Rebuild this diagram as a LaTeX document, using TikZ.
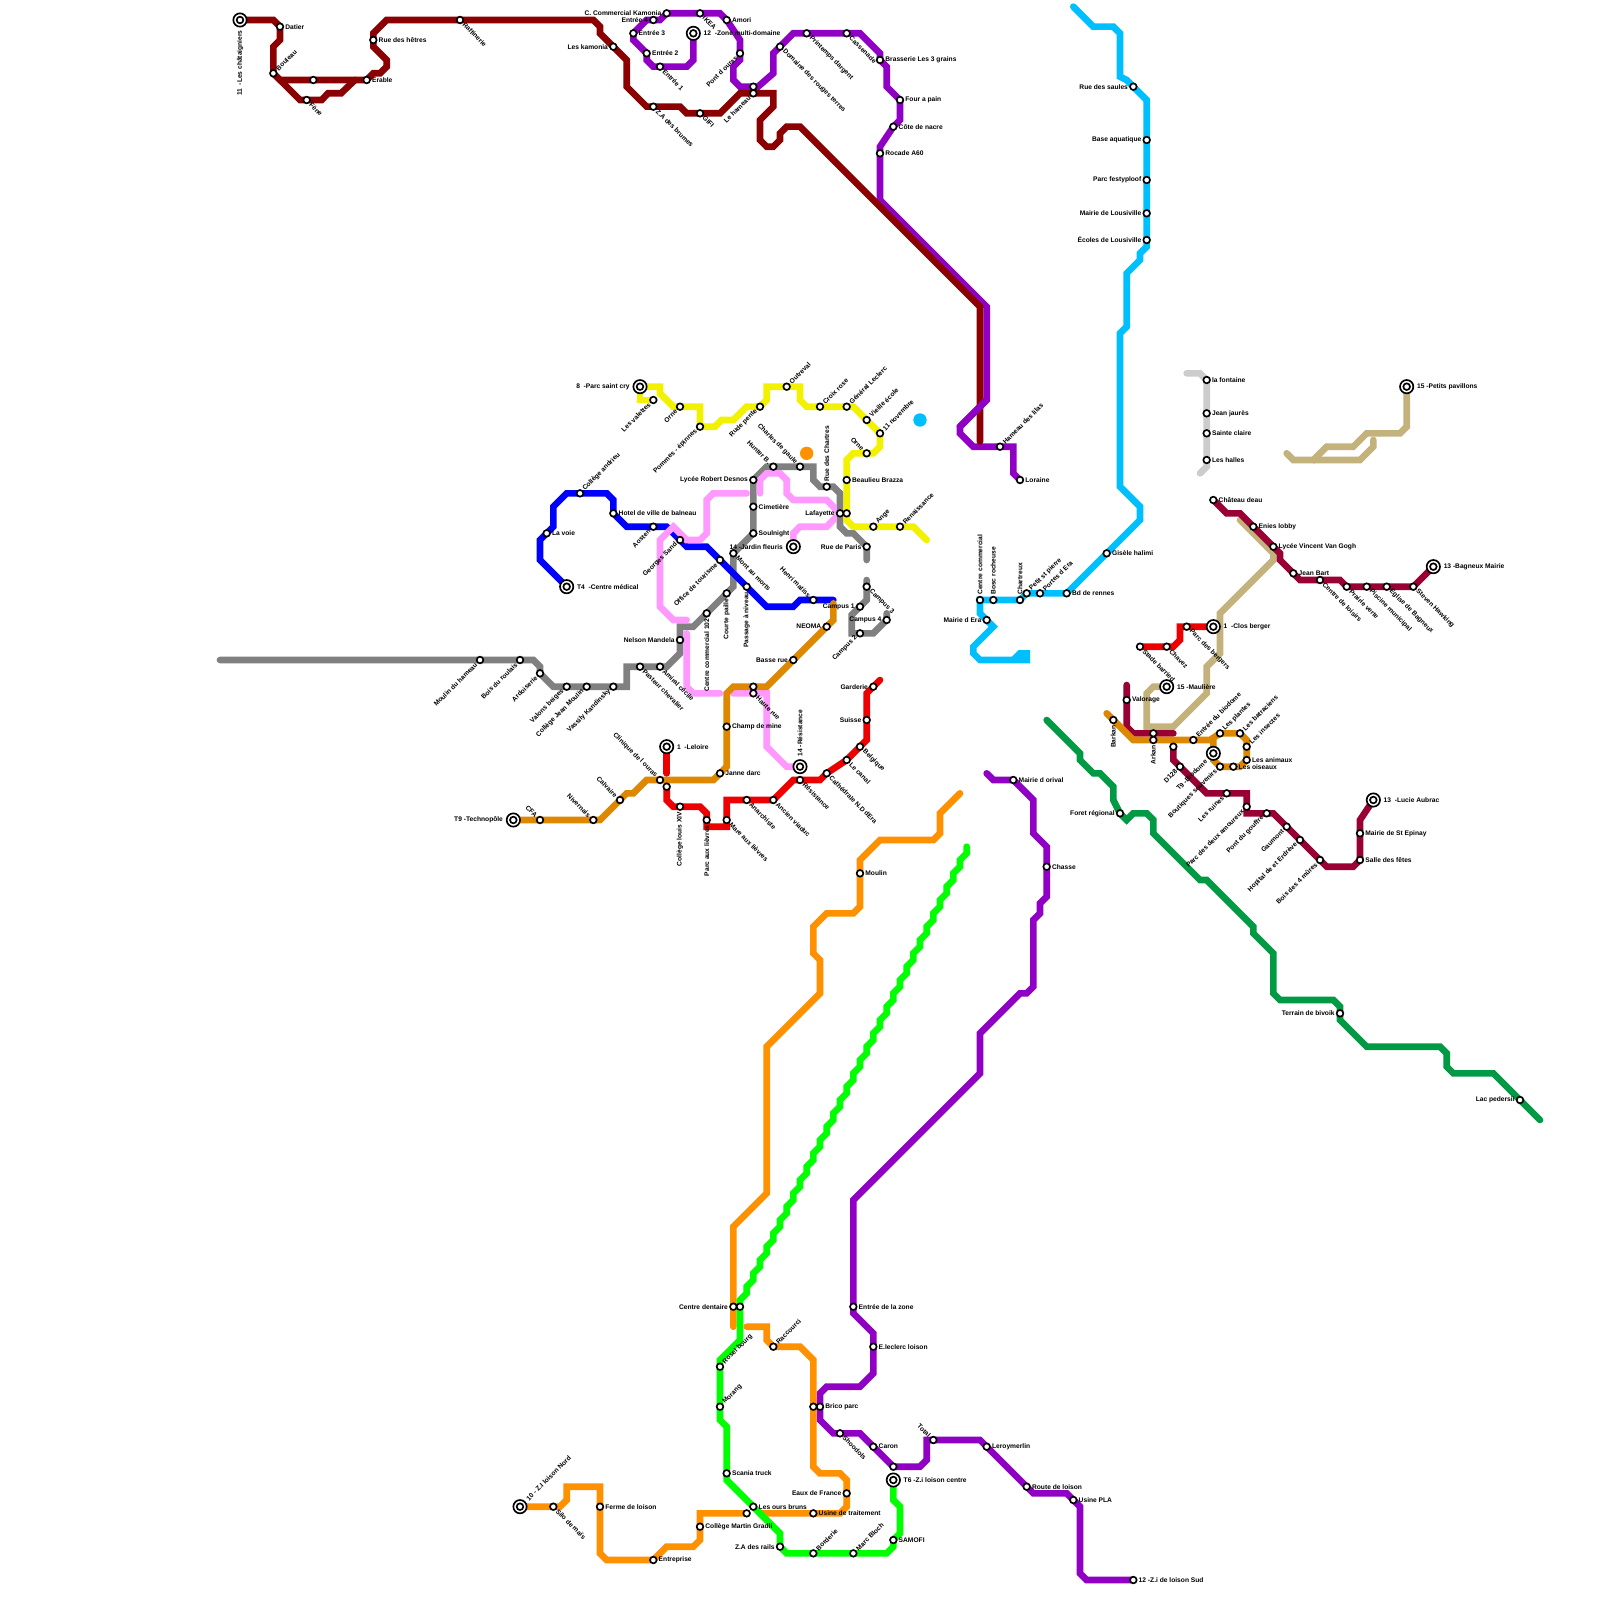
\documentclass[tikz,border=0pt]{standalone}
\usepackage{fontspec}
\setmainfont{Liberation Sans}
\usetikzlibrary{backgrounds}
\definecolor{cDred}{HTML}{8B0000}
\definecolor{cPur}{HTML}{9000C4}
\definecolor{cSky}{HTML}{00BFFF}
\definecolor{cYel}{HTML}{F2F200}
\definecolor{cGry}{HTML}{808080}
\definecolor{cBlu}{HTML}{0000FF}
\definecolor{cPnk}{HTML}{FF99FF}
\definecolor{cRed}{HTML}{EE0000}
\definecolor{cDor}{HTML}{DE8700}
\definecolor{cOrg}{HTML}{FF9000}
\definecolor{cLim}{HTML}{00FF00}
\definecolor{cGrn}{HTML}{009944}
\definecolor{cCrm}{HTML}{990033}
\definecolor{cTan}{HTML}{C4B27D}
\definecolor{cLgr}{HTML}{CCCCCC}
\tikzset{
  stnode/.style={circle,draw=black,fill=white,inner sep=0pt,minimum size=3.33pt,line width=0.83pt},
  tmnode/.style={circle,draw=black,fill=white,inner sep=0pt,minimum size=6.67pt,line width=0.83pt},
  dotnode/.style={circle,inner sep=0pt,minimum size=6.67pt},
  lab/.style={inner sep=0pt,font=\fontsize{3.33pt}{4pt}\selectfont\bfseries,text=black},
  metro/.style={line width=3.33pt,line join=miter,line cap=round},
  R/.style={xshift=#1,anchor=west},R/.default=2.5pt,
  L/.style={xshift=-#1,anchor=east},L/.default=2.5pt,
  UR/.style={rotate=45,xshift=#1,anchor=west},UR/.default=2.5pt,
  DR/.style={rotate=-45,xshift=#1,anchor=west},DR/.default=2.5pt,
  DL/.style={rotate=45,xshift=-#1,anchor=east},DL/.default=2.5pt,
  UL/.style={rotate=-45,xshift=-#1,anchor=east},UL/.default=2.5pt,
  U/.style={rotate=90,xshift=#1,anchor=west},U/.default=2.5pt,
  D/.style={rotate=90,xshift=-#1,anchor=east},D/.default=2.5pt,
}
\newcommand\stn[5]{\node[stnode](#1) at (#2,#3) {}; \node[lab,#4](#1t) at (#2,#3) {#5};}
\newcommand\stu[3]{\node[stnode](#1) at (#2,#3) {};}
\newcommand\trm[5]{\node[tmnode](#1o) at (#2,#3) {}; \node[stnode](#1) at (#2,#3) {}; \node[lab,#4=5pt](#1t) at (#2,#3) {#5};}
\begin{document}
\begin{tikzpicture}[x=0.5pt,y=-0.5pt]
\useasboundingbox (0,0) rectangle (1600,1600);
% ---- line 11
\trm{tA}{240}{20}{D}{11\ \ -Les châtaigniers}
\stn{aDat}{280}{26.67}{R}{Datier}
\stn{aBou}{273.33}{73.33}{UR}{Bouleau}
\stu{aUn}{313.33}{80}
\stn{aFen}{306.67}{100}{DR}{Fène}
\stn{aEra}{366.67}{80}{R}{Erable}
\stn{aHet}{373.33}{40}{R}{Rue des hêtres}
\stn{aRaf}{460}{20}{DR}{Raffinerie}
\stn{aKam}{613.33}{46.67}{L}{Les kamonia}
\stn{aZab}{653.33}{106.67}{DR}{Z.A des brumes}
\stn{aGif}{700}{113.33}{DR}{GIFI}
\stn{aHam}{753.33}{93.33}{DL}{Le hameau}
% ---- purple north
\trm{tB}{693.33}{33.33}{R}{12\ \ -Zone multi-domaine}
\stn{bE1}{660}{66.67}{DR}{Entrée 1}
\stn{bE2}{646.67}{53.33}{R}{Entrée 2}
\stn{bE3}{633.33}{33.33}{R}{Entrée 3}
\stn{bE4}{653.33}{20}{L}{Entrée 4}
\stn{bCom}{666.67}{13.33}{L}{C. Commercial Kamonia}
\stn{bIke}{700}{13.33}{DR}{IKEA}
\stn{bAmo}{726.67}{20}{R}{Amori}
\stn{bPon}{740}{53.33}{DL}{Pont d ouras}
\stu{bUn}{753.33}{86.67}
\stn{bDom}{780}{46.67}{DR}{Domaine des rouges terres}
\stn{bPri}{806.67}{33.33}{DR}{Printemps dargent}
\stn{bCas}{846.67}{33.33}{DR}{Cassenade}
\stn{bBra}{880}{60}{R}{Brasserie Les 3 grains}
\stn{bFou}{900}{100}{R}{Four a pain}
\stn{bCot}{893.33}{126.67}{R}{Côte de nacre}
\stn{bRoc}{880}{153.33}{R}{Rocade A60}
\stn{bHam}{1000}{446.67}{UR}{Hameau des lilas}
\stn{bLor}{1020}{480}{R}{Loraine}
% ---- purple south
\stn{cOri}{1013.33}{780}{R}{Mairie d orival}
\stn{cCha}{1046.67}{866.67}{R}{Chasse}
\stn{cEnt}{853.33}{1306.67}{R}{Entrée de la zone}
\stn{cLec}{873.33}{1346.67}{R}{E.leclerc loison}
\stn{cBri}{820}{1406.67}{R}{Brico parc}
\stn{cSho}{840}{1433.33}{DR}{Shoodols}
\stn{cCar}{873.33}{1446.67}{R}{Caron}
\stu{cUn}{893.33}{1466.67}
\stn{cTot}{933.33}{1440}{UL}{Total}
\stn{cLer}{986.67}{1446.67}{R}{Leroymerlin}
\stn{cRou}{1026.67}{1486.67}{R}{Route de loison}
\stn{cPla}{1073.33}{1500}{R}{Usine PLA}
\stn{cSud}{1133.33}{1580}{R}{12 -Z.i de loison Sud}
% ---- sky
\stn{dSau}{1133.33}{86.67}{L}{Rue des saules}
\stn{dBas}{1146.67}{140}{L}{Base aquatique}
\stn{dFes}{1146.67}{180}{L}{Parc festyploof}
\stn{dMai}{1146.67}{213.33}{L}{Mairie de Lousiville}
\stn{dEco}{1146.67}{240}{L}{Écoles de Lousiville}
\stn{dGis}{1106.67}{553.33}{R}{Gisèle halimi}
\stn{dBd}{1066.67}{593.33}{R}{Bd de rennes}
\stn{dPor}{1040}{593.33}{UR}{Portes d Era}
\stn{dPet}{1026.67}{593.33}{UR}{Petit st pierre}
\stn{dCha}{1020}{600}{U}{Chartreux}
\stn{dBos}{993.33}{600}{U}{Bosc rocheuse}
\stn{dCen}{980}{600}{U}{Centre commercial}
\stn{dEra}{986.67}{620}{L}{Mairie d Era}
% ---- yellow
\trm{tE}{640}{386.67}{L}{8\ \ -Parc saint cry}
\stn{eVal}{653.33}{400}{DL}{Les valettes}
\stn{eOrn}{680}{406.67}{DL}{Orne}
\stn{ePom}{700}{426.67}{DL}{Pommes - épinnes}
\stn{eRud}{760}{406.67}{DL}{Rude pente}
\stn{eOut}{786.67}{386.67}{UR}{Outreval}
\stn{eCro}{820}{406.67}{UR}{Croix rose}
\stn{eGen}{846.67}{406.67}{UR}{Général Leclerc}
\stn{eVie}{866.67}{420}{UR}{Vieille école}
\stn{eNov}{880}{433.33}{UR}{11 novembre}
\stn{eOr2}{866.67}{453.33}{UL}{Orne}
\stn{eBea}{846.67}{480}{R}{Beaulieu Brazza}
\stu{eLaf}{846.67}{513.33}
\stn{eAng}{873.33}{526.67}{UR}{Ange}
\stn{eRen}{900}{526.67}{UR}{Renaissance}
% ---- gray
\stn{fMou}{480}{660}{DL}{Moulin du hameau}
\stn{fBoi}{520}{660}{DL}{Bois du roulais}
\stn{fArd}{540}{673.33}{DL}{Ardoiserie}
\stn{fVal}{566.67}{686.67}{DL}{Valons beiges}
\stn{fCol}{586.67}{686.67}{DL}{Collège Jean Moulin}
\stn{fVas}{613.33}{686.67}{DL}{Vassily Kandinsky}
\stn{fPas}{640}{666.67}{DR}{Pasteur chevalier}
\stn{fAmi}{660}{666.67}{DR}{Amiral cécile}
\stn{fNel}{680}{640}{L}{Nelson Mandela}
\stn{fC102}{706.67}{613.33}{D}{Centre commercial 102}
\stn{fCou}{726.67}{593.33}{D}{Courte paille}
\stn{fMon}{733.33}{553.33}{DR}{Mont au morts}
\stn{fSou}{753.33}{533.33}{R}{Soulnight}
\stn{fCim}{753.33}{506.67}{R}{Cimetière}
\stn{fLyc}{753.33}{480}{L}{Lycée Robert Desnos}
\stn{fHun}{773.33}{466.67}{UL}{Hunter B.}
\stn{fChg}{800}{466.67}{UL}{Charles de gaule}
\stn{fRue}{826.67}{486.67}{U}{Rue des Chartres}
\stn{fLaf}{840}{513.33}{L}{Lafayette}
\stn{fPar}{866.67}{546.67}{L}{Rue de Paris}
\stn{fCa3}{866.67}{586.67}{DR}{Campus 3}
\stn{fCa1}{860}{606.67}{L}{Campus 1}
\stn{fCa4}{886.67}{620}{L}{Campus 4}
\stn{fCa2}{860}{633.33}{DL}{Campus 2}
% ---- blue
\trm{tG}{566.67}{586.67}{R}{T4\ \ -Centre médical}
\stn{gVoi}{546.67}{533.33}{R}{La voie}
\stn{gAnd}{580}{493.33}{UR}{Collège andrieu}
\stn{gHot}{613.33}{513.33}{R}{Hotel de ville de balneau}
\stn{gAos}{653.33}{526.67}{DL}{Aosten}
\stn{gSan}{680}{540}{DL}{Georges Sand}
\stn{gOff}{720}{560}{DL}{Office de tourisme}
\stn{gPas}{746.67}{586.67}{D}{Passage à niveau}
\stn{gHen}{813.33}{600}{UL}{Henri matiss}
% ---- pink termini
\trm{tH}{793.33}{546.67}{L}{14 -Jardin fleuris}
\trm{tI}{800}{766.67}{U}{14 -Résistance}
\stn{hHau}{753.33}{693.33}{DR}{Haute rue}
% ---- dark orange
\trm{tJ}{513.33}{820}{L}{T9 -Technopôle}
\stn{jCfa}{540}{820}{UL}{CFA}
\stn{jNiv}{593.33}{820}{UL}{Nivernais}
\stn{jCal}{620}{800}{UL}{Calvaire}
\stn{jCli}{660}{780}{UL}{Clinique de l ouras}
\stn{jJan}{720}{773.33}{R}{Janne darc}
\stn{jCha}{726.67}{726.67}{R}{Champ de mine}
\stu{jHau}{753.33}{686.67}
\stn{jBas}{793.33}{660}{L}{Basse rue}
\stn{jNeo}{826.67}{626.67}{L}{NEOMA}
% ---- red
\trm{tK}{666.67}{746.67}{R}{1\ \ -Leloire}
\stu{kUn}{666.67}{786.67}
\stn{kLou}{680}{806.67}{D}{Collège louis XIV}
\stn{kLie}{706.67}{820}{D}{Parc aux lièvres}
\stn{kMar}{726.67}{820}{DR}{Mare aux lièvres}
\stn{kAna}{746.67}{800}{DR}{Anarchiste}
\stn{kAnc}{773.33}{800}{DR}{Ancien viaduc}
\stn{kRes}{800}{780}{DR}{Résistance}
\stn{kCat}{826.67}{773.33}{DR}{Cathédrale N.D dEra}
\stn{kCan}{846.67}{760}{DR}{Le canal}
\stn{kBel}{860}{746.67}{DR}{Belgique}
\stn{kSui}{866.67}{720}{L}{Suisse}
\stn{kGar}{873.33}{686.67}{L}{Garderie}
% ---- red east
\trm{tL}{1213.33}{626.67}{R}{1\ \ -Clos berger}
\stn{lPar}{1186.67}{626.67}{DR}{Parc des bergers}
\stn{lCha}{1166.67}{646.67}{DR}{Chavez}
\stn{lSta}{1140}{646.67}{DR}{Stade barried}
% ---- light gray
\stn{mFon}{1206.67}{380}{R}{la fontaine}
\stn{mJea}{1206.67}{413.33}{R}{Jean jaurès}
\stn{mSte}{1206.67}{433.33}{R}{Sainte claire}
\stn{mHal}{1206.67}{460}{R}{Les halles}
% ---- crimson upper
\stn{nCha}{1213.33}{500}{R}{Château deau}
\stn{nEni}{1253.33}{526.67}{R}{Enies lobby}
\stn{nLyc}{1273.33}{546.67}{R}{Lycée Vincent Van Gogh}
\stn{nJea}{1293.33}{573.33}{R}{Jean Bart}
\stn{nCen}{1320}{580}{DR}{Centre de loisirs}
\stn{nPra}{1346.67}{586.67}{DR}{Prairie verte}
\stn{nPis}{1366.67}{586.67}{DR}{Piscine municipal}
\stn{nEgl}{1386.67}{586.67}{DR}{Eglise de Bagneux}
\stn{nSte}{1413.33}{586.67}{DR}{Steven Hawking}
\trm{tN}{1433.33}{566.67}{R}{13 -Bagneux Mairie}
% ---- tan
\trm{tO}{1166.67}{686.67}{R}{15 -Maulière}
\trm{tP}{1406.67}{386.67}{R}{15 -Petits pavillons}
% ---- crimson lower
\stn{qVal}{1126.67}{700}{R}{Valorage}
\stu{qArk}{1153.33}{733.33}
\stu{qUn}{1173.33}{746.67}
\stn{qD}{1180}{766.67}{DL}{D128}
\stn{qRui}{1226.67}{793.33}{DL}{Les ruines}
\stn{qAmo}{1246.67}{806.67}{DL}{Parc des deux amoureux}
\stn{qGou}{1266.67}{813.33}{DL}{Pont du gouffre}
\stn{qGau}{1286.67}{826.67}{DL}{Gaumont}
\stn{qHop}{1300}{840}{DL}{Hopital de et Erdrève}
\stn{qBoi}{1320}{860}{DL}{Bois des 4 mûres}
\stn{qSal}{1360}{860}{R}{Salle des fêtes}
\stn{qMai}{1360}{833.33}{R}{Mairie de St Epinay}
\trm{tQ}{1373.33}{800}{R}{13\ \ -Lucie Aubrac}
% ---- biodome
\stn{rBar}{1113.33}{720}{D}{Barkan}
\stn{rArk}{1153.33}{740}{D}{Arkan}
\stn{rEnt}{1193.33}{740}{UR}{Entrée du biodome}
\stn{rPla}{1220}{733.33}{UR}{Les plantes}
\stn{rBat}{1240}{733.33}{UR}{Les batraciens}
\stn{rIns}{1246.67}{746.67}{UR}{Les insectes}
\stn{rAni}{1246.67}{760}{R}{Les animaux}
\stn{rOis}{1233.33}{766.67}{R}{Les oiseaux}
\stn{rBou}{1220}{766.67}{DL}{Boutiques souvenirs}
\trm{tR}{1213.33}{753.33}{DL}{T9 -Biodome}
% ---- dark green
\stn{sFor}{1120}{813.33}{L}{Foret régional}
\stn{sTer}{1340}{1013.33}{L}{Terrain de bivoik}
\stn{sLac}{1520}{1100}{L}{Lac pedersii}
% ---- orange
\stn{uMou}{860}{873.33}{R}{Moulin}
\stn{uDen}{733.33}{1306.67}{L}{Centre dentaire}
\stn{uRac}{773.33}{1346.67}{UR}{Raccourci}
\stu{uBri}{813.33}{1406.67}
\stn{uEau}{846.67}{1493.33}{L}{Eaux de France}
\stn{uUsi}{813.33}{1513.33}{R}{Usine de traitement}
\stu{uUn}{746.67}{1513.33}
\stn{uGra}{700}{1526.67}{R}{Collège Martin Gradli}
\stn{uEnt}{653.33}{1560}{R}{Entreprise}
\stn{uFer}{600}{1506.67}{R}{Ferme de loison}
\stn{uSil}{553.33}{1506.67}{DR}{Silo de maïs}
\trm{tU}{520}{1506.67}{UR}{10 - Z.I loison Nord}
% ---- lime
\stu{vDen}{740}{1306.67}
\stn{vRos}{720}{1366.67}{UR}{Rosel bourg}
\stn{vMor}{720}{1406.67}{UR}{Morang}
\stn{vSca}{726.67}{1473.33}{R}{Scania truck}
\stn{vOur}{753.33}{1506.67}{R}{Les ours bruns}
\stn{vZa}{780}{1546.67}{L}{Z.A des rails}
\stn{vBor}{813.33}{1553.33}{UR}{Borderie}
\stn{vMar}{853.33}{1553.33}{UR}{Marc Bloch}
\stn{vSam}{893.33}{1540}{R}{SAMOFI}
\trm{tV}{893.33}{1480}{R}{T6 -Z.i loison centre}
% ---- dots
\node[dotnode,fill=cSky] (dotSky) at (920,420) {};
\node[dotnode,fill=cOrg] (dotOrg) at (806.67,453.33) {};
% ================= lines
\begin{scope}[on background layer]
\fill[white] (0,0) rectangle (1600,1600);
% tan
\draw[metro,cTan] (1240,520) -- (1273.33,553.33) -- (1273.33,560) -- (1220,613.33) -- (1220,653.33) -- (1206.67,666.67) -- (1206.67,693.33) -- (1173.33,726.67) -- (1146.67,726.67) -- (1146.67,693.33) -- (1153.33,686.67) -- (tO.center);
\draw[metro,cTan] (tP.center) -- (1406.67,426.67) -- (1400,433.33) -- (1366.67,433.33) -- (1353.33,446.67) -- (1326.67,446.67) -- (1313.33,460) -- (1293.33,460) -- (1286.67,453.33);
\draw[metro,cTan] (1373.33,440) -- (1373.33,446.67) -- (1360,460) -- (1313.33,460);
% light gray
\draw[metro,cLgr] (1186.67,373.33) -- (1200,373.33) -- (mFon.center) -- (mJea.center) -- (mSte.center) -- (mHal.center) -- (1206.67,466.67) -- (1200,473.33);
% gray
\draw[metro,cGry] (220,660) -- (fMou.center) -- (fBoi.center) -- (533.33,660) -- (540,666.67) -- (fArd.center) -- (553.33,686.67) -- (fVal.center) -- (fCol.center) -- (fVas.center) -- (626.67,686.67) -- (626.67,666.67) -- (fPas.center) -- (fAmi.center) -- (666.67,666.67) -- (680,653.33) -- (fNel.center) -- (680,626.67) -- (693.33,626.67) -- (fC102.center) -- (fCou.center) -- (733.33,586.67) -- (fMon.center) -- (fSou.center) -- (fCim.center) -- (fLyc.center) -- (766.67,466.67) -- (fHun.center) -- (fChg.center) -- (813.33,466.67) -- (813.33,480) -- (820,486.67) -- (fRue.center) -- (833.33,486.67) -- (840,493.33) -- (fLaf.center) -- (840,526.67) -- (846.67,533.33) -- (853.33,533.33) -- (fPar.center) -- (866.67,560);
\draw[metro,cGry] (866.67,580) -- (fCa3.center) -- (866.67,600) -- (fCa1.center) -- (851.67,615) -- (851.67,633.33) -- (fCa2.center) -- (873.33,633.33) -- (fCa4.center) -- (886.67,613.33);
% blue
\draw[metro,cBlu] (tG.center) -- (540,560) -- (540,540) -- (gVoi.center) -- (553.33,526.67) -- (553.33,506.67) -- (566.67,493.33) -- (gAnd.center) -- (606.67,493.33) -- (613.33,500) -- (gHot.center) -- (626.67,526.67) -- (gAos.center) -- (666.67,526.67) -- (gSan.center) -- (686.67,546.67) -- (706.67,546.67) -- (gOff.center) -- (gPas.center) -- (766.67,606.67) -- (793.33,606.67) -- (800,600) -- (gHen.center) -- (833.33,600);
% pink
\draw[metro,cPnk] (746.67,493.33) -- (713.33,493.33) -- (706.67,500) -- (706.67,533.33) -- (700,540) -- (686.67,540) -- (673.33,526.67) -- (660,540) -- (660,606.67) -- (673.33,620) -- (686.67,620);
\draw[metro,cPnk] (686.67,633.33) -- (686.67,686.67) -- (693.33,693.33) -- (720,693.33);
\draw[metro,cPnk] (733.33,693.33) -- (hHau.center) -- (766.67,693.33) -- (766.67,746.67) -- (786.67,766.67) -- (tI.center);
\draw[metro,cPnk] (tH.center) -- (793.33,533.33) -- (800,526.67) -- (826.67,526.67) -- (840,513.33) -- (826.67,500) -- (793.33,500) -- (786.67,493.33) -- (786.67,480) -- (780,473.33) -- (766.67,473.33) -- (760,480) -- (760,493.33);
\draw[metro,cGry] (840,493.33) -- (fLaf.center) -- (840,526.67);
% yellow
\draw[metro,cYel] (tE.center) -- (660,386.67) -- (660,393.33) -- (673.33,406.67) -- (eOrn.center) -- (700,406.67) -- (ePom.center) -- (715,426.67) -- (721.67,420) -- (733.33,420) -- (746.67,406.67) -- (eRud.center) -- (766.67,400) -- (766.67,386.67) -- (eOut.center) -- (800,386.67) -- (800,400) -- (806.67,406.67) -- (eCro.center) -- (eGen.center) -- (853.33,406.67) -- (eVie.center) -- (eNov.center) -- (880,446.67) -- (873.33,453.33) -- (eOr2.center) -- (853.33,453.33) -- (846.67,460) -- (eBea.center) -- (eLaf.center) -- (846.67,520) -- (853.33,526.67) -- (eAng.center) -- (eRen.center) -- (913.33,526.67) -- (926.67,540);
\draw[metro,cYel] (tE.center) -- (640,400) -- (eVal.center);
% purple north
\draw[metro,cPur] (tB.center) -- (693.33,60) -- (686.67,66.67) -- (bE1.center) -- (653.33,66.67) -- (646.67,60) -- (bE2.center) -- (633.33,40) -- (bE3.center) -- (646.67,20) -- (bE4.center) -- (660,20) -- (bCom.center) -- (bIke.center) -- (720,13.33) -- (bAmo.center) -- (740,40) -- (bPon.center) -- (740,60) -- (733.33,66.67) -- (733.33,80) -- (740,86.67) -- (bUn.center) -- (758,86.67) -- (773.33,73.33) -- (773.33,53.33) -- (bDom.center) -- (793.33,33.33) -- (bPri.center) -- (bCas.center) -- (860,33.33) -- (880,53.33) -- (bBra.center) -- (886.67,66.67) -- (886.67,86.67) -- (bFou.center) -- (900,120) -- (bCot.center) -- (880,146.67) -- (bRoc.center) -- (880,200) -- (986.67,306.67) -- (986.67,400) -- (960,426.67) -- (960,433.33) -- (973.33,446.67) -- (bHam.center) -- (1013.33,446.67) -- (1013.33,473.33) -- (bLor.center);
% dark red
\draw[metro,cDred] (tA.center) -- (273.33,20) -- (aDat.center) -- (280,40) -- (273.33,46.67) -- (aBou.center) -- (300,100) -- (aFen.center) -- (321.67,100) -- (328,93.33) -- (341,93.33) -- (355,80);
\draw[metro,cDred] (aBou.center) -- (280,80) -- (aUn.center) -- (aEra.center) -- (373.33,73.33) -- (380,73.33) -- (386.67,66.67) -- (386.67,60) -- (373.33,46.67) -- (aHet.center) -- (373.33,33.33) -- (386.67,20) -- (aRaf.center) -- (593.33,20) -- (600,26.67) -- (600,33.33) -- (aKam.center) -- (626.67,60) -- (626.67,86.67) -- (646.67,106.67) -- (aZab.center) -- (680,106.67) -- (686.67,113.33) -- (aGif.center) -- (720,113.33) -- (740,93.33) -- (aHam.center) -- (773.33,93.33) -- (773.33,106.67) -- (760,120) -- (760,140) -- (766.67,146.67) -- (773.33,146.67) -- (780,140) -- (780,133.33) -- (786.67,126.67) -- (800,126.67) -- (980,306.67) -- (980,441.67);
\draw[metro,cPur] (986.67,400) -- (960,426.67);
% purple south
\draw[metro,cPur] (986.67,773.33) -- (993.33,780) -- (cOri.center) -- (1033.33,800) -- (1033.33,833.33) -- (1046.67,846.67) -- (cCha.center) -- (1046.67,896.67) -- (1040,903.33) -- (1040,913.33) -- (1033.33,920) -- (1033.33,986.67) -- (1026.67,993.33) -- (1020,993.33) -- (980,1033.33) -- (980,1073.33) -- (853.33,1200) -- (cEnt.center) -- (853.33,1313.33) -- (873.33,1333.33) -- (cLec.center) -- (873.33,1373.33) -- (860,1386.67) -- (826.67,1386.67) -- (820,1393.33) -- (cBri.center) -- (820,1420) -- (833.33,1433.33) -- (cSho.center) -- (860,1433.33) -- (cCar.center) -- (cUn.center) -- (920,1466.67) -- (926.67,1460) -- (926.67,1440) -- (cTot.center) -- (980,1440) -- (cLer.center) -- (cRou.center) -- (1033.33,1493.33) -- (1066.67,1493.33) -- (cPla.center) -- (1080,1506.67) -- (1080,1573.33) -- (1086.67,1580) -- (cSud.center);
% sky
\draw[metro,cSky] (1073.33,6.67) -- (1093.33,26.67) -- (1113.33,26.67) -- (1120,33.33) -- (1120,76.67) -- (1126.67,80) -- (dSau.center) -- (1146.67,100) -- (dBas.center) -- (dFes.center) -- (dMai.center) -- (dEco.center) -- (1146.67,246.67) -- (1140,253.33) -- (1140,260) -- (1126.67,273.33) -- (1126.67,326.67) -- (1120,333.33) -- (1120,486.67) -- (1140,506.67) -- (1140,520) -- (dGis.center) -- (dBd.center) -- (dPor.center) -- (dPet.center) -- (dCha.center) -- (dBos.center) -- (dCen.center) -- (980,613.33) -- (dEra.center) -- (993.33,626.67) -- (973.33,646.67) -- (973.33,653.33) -- (980,660) -- (1026.67,660) -- (1026.67,653.33) -- (1020,653.33) -- (1013.33,660);
% dark orange
\draw[metro,cDor] (tJ.center) -- (jCfa.center) -- (jNiv.center) -- (600,820) -- (jCal.center) -- (626.67,793.33) -- (633.33,793.33) -- (646.67,780) -- (jCli.center) -- (713.33,780) -- (jJan.center) -- (726.67,766.67) -- (jCha.center) -- (726.67,693.33) -- (733.33,686.67) -- (jHau.center) -- (766.67,686.67) -- (jBas.center) -- (jNeo.center) -- (833.33,620) -- (833.33,603.33);
% red
\draw[metro,cRed] (tK.center) -- (666.67,773.33);
\draw[metro,cRed] (kUn.center) -- (666.67,800) -- (673.33,806.67) -- (kLou.center) -- (700,806.67) -- (706.67,813.33) -- (kLie.center) -- (706.67,826.67) -- (726.67,826.67) -- (kMar.center) -- (726.67,800) -- (kAna.center) -- (kAnc.center) -- (793.33,780) -- (kRes.center) -- (820,780) -- (kCat.center) -- (kCan.center) -- (kBel.center) -- (866.67,740) -- (kSui.center) -- (866.67,693.33) -- (kGar.center) -- (880,680);
\draw[metro,cRed] (tL.center) -- (lPar.center) -- (1180,626.67) -- (1180,640) -- (1173.33,646.67) -- (lCha.center) -- (lSta.center);
% crimson
\draw[metro,cCrm] (nCha.center) -- (1226.67,513.33) -- (1240,513.33) -- (nEni.center) -- (nLyc.center) -- (1280,553.33) -- (1280,560) -- (nJea.center) -- (1300,580) -- (nCen.center) -- (1340,580) -- (nPra.center) -- (nPis.center) -- (nEgl.center) -- (nSte.center) -- (tN.center);
\draw[metro,cCrm] (1126.67,685) -- (qVal.center) -- (1126.67,726.67) -- (1133.33,733.33) -- (qArk.center) -- (1173.33,733.33);
\draw[metro,cCrm] (qUn.center) -- (1173.33,760) -- (qD.center) -- (1206.67,793.33) -- (qRui.center) -- (1246.67,793.33) -- (qAmo.center) -- (1246.67,813.33) -- (qGou.center) -- (1273.33,813.33) -- (qGau.center) -- (qHop.center) -- (qBoi.center) -- (1326.67,866.67) -- (1353.33,866.67) -- (qSal.center) -- (qMai.center) -- (1360,820) -- (tQ.center);
% biodome
\draw[metro,cDor] (1106.67,713.33) -- (rBar.center) -- (1133.33,740) -- (rArk.center) -- (rEnt.center) -- (1210,740) -- (rPla.center) -- (rBat.center) -- (1246.67,740) -- (rIns.center) -- (rAni.center) -- (1240,766.67) -- (rOis.center) -- (rBou.center) -- (1213.33,760) -- (tR.center) -- (1213.33,740);
% dark green
\draw[metro,cGrn] (1046.67,720) -- (1080,753.33) -- (1080,760) -- (1093.33,773.33) -- (1100,773.33) -- (1113.33,786.67) -- (1113.33,800) -- (sFor.center) -- (1126.67,820) -- (1133.33,813.33) -- (1146.67,813.33) -- (1153.33,820) -- (1153.33,833.33) -- (1200,880) -- (1206.67,880) -- (1253.33,926.67) -- (1253.33,933.33) -- (1273.33,953.33) -- (1273.33,993.33) -- (1280,1000) -- (1333.33,1000) -- (1340,1006.67) -- (sTer.center) -- (1340,1020) -- (1366.67,1046.67) -- (1440,1046.67) -- (1446.67,1053.33) -- (1446.67,1066.67) -- (1453.33,1073.33) -- (1493.33,1073.33) -- (sLac.center) -- (1540,1120);
% orange
\draw[metro,cOrg] (960,793.33) -- (940,813.33) -- (940,833.33) -- (933.33,840) -- (880,840) -- (860,860) -- (uMou.center) -- (860,906.67) -- (853.33,913.33) -- (826.67,913.33) -- (813.33,926.67) -- (813.33,953.33) -- (820,960) -- (820,993.33) -- (766.67,1046.67) -- (766.67,1193.33) -- (733.33,1226.67) -- (uDen.center) -- (733.33,1326.67);
\draw[metro,cOrg] (746.67,1326.67) -- (766.67,1326.67) -- (766.67,1340) -- (uRac.center) -- (800,1346.67) -- (813.33,1360) -- (uBri.center) -- (813.33,1466.67) -- (820,1473.33) -- (840,1473.33) -- (846.67,1480) -- (uEau.center) -- (846.67,1506.67) -- (840,1513.33) -- (uUsi.center) -- (760,1513.33);
\draw[metro,cOrg] (uUn.center) -- (700,1513.33) -- (uGra.center) -- (700,1540) -- (693.33,1546.67) -- (666.67,1546.67) -- (uEnt.center) -- (606.67,1560) -- (600,1553.33) -- (uFer.center) -- (600,1486.67) -- (566.67,1486.67) -- (566.67,1500) -- (560,1506.67) -- (uSil.center) -- (tU.center);
% lime
\draw[metro,cLim] (740,1300) \foreach \n in {0,...,33} { -- ({740+6.6667*(\n+1)},{1300-13.3333*\n-6.6667}) -- ({740+6.6667*(\n+1)},{1300-13.3333*(\n+1)}) };
\draw[metro,cLim] (740,1300) -- (vDen.center) -- (740,1340) -- (720,1360) -- (vRos.center) -- (vMor.center) -- (720,1420) -- (726.67,1426.67) -- (vSca.center) -- (726.67,1480) -- (vOur.center) -- (780,1533.33) -- (vZa.center) -- (786.67,1553.33) -- (vBor.center) -- (vMar.center) -- (886.67,1553.33) -- (893.33,1546.67) -- (vSam.center) -- (900,1533.33) -- (900,1506.67) -- (893.33,1500) -- (tV.center);
\end{scope}
\end{tikzpicture}
\end{document}
